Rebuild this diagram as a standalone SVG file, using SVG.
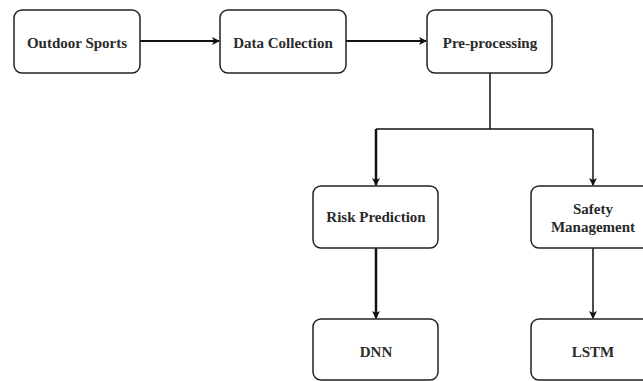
<svg xmlns="http://www.w3.org/2000/svg" width="643" height="381" viewBox="0 0 643 381">
<style>
.box{fill:#fff;stroke:#222;stroke-width:1.5}
.t{font-family:"Liberation Serif","Times New Roman",serif;font-weight:bold;font-size:15px;fill:#2a2a2a;text-anchor:middle}
.c{fill:none;stroke:#111;stroke-width:2}
</style>
<defs>
<marker id="ah" markerWidth="8" markerHeight="8" refX="7" refY="4" orient="auto" markerUnits="userSpaceOnUse">
<path d="M0,0 L8,4 L0,8 L2,4 Z" fill="#111"/>
</marker>
</defs>
<rect width="643" height="381" fill="#fff"/>
<g id="connectors">
<path class="c" d="M140,41 H219" marker-end="url(#ah)"/>
<path class="c" d="M346,41 H426" marker-end="url(#ah)"/>
<path class="c" d="M490,73 V129" style="stroke-width:1.5"/>
<path class="c" d="M376,129 H593" style="stroke-width:1.5"/>
<path class="c" d="M376,129 V185" style="stroke-width:2.5" marker-end="url(#ah)"/>
<path class="c" d="M593,129 V185" style="stroke-width:1.5" marker-end="url(#ah)"/>
<path class="c" d="M376,248 V318" style="stroke-width:2.5" marker-end="url(#ah)"/>
<path class="c" d="M593,248 V318" style="stroke-width:1.5" marker-end="url(#ah)"/>
</g>
<g id="outdoor"><rect class="box" x="14" y="10" width="126" height="63" rx="8"/><text class="t" x="77" y="48">Outdoor Sports</text></g>
<g id="data"><rect class="box" x="220" y="10" width="126" height="63" rx="8"/><text class="t" x="283" y="48">Data Collection</text></g>
<g id="pre"><rect class="box" x="427" y="10" width="125" height="63" rx="8"/><text class="t" x="490" y="48">Pre-processing</text></g>
<g id="risk"><rect class="box" x="313" y="186" width="125" height="62" rx="8"/><text class="t" x="376" y="222">Risk Prediction</text></g>
<g id="safety"><rect class="box" x="531" y="186" width="125" height="62" rx="8"/><text class="t" x="593" y="214">Safety</text><text class="t" x="593" y="232">Management</text></g>
<g id="dnn"><rect class="box" x="313" y="319" width="125" height="61" rx="8"/><text class="t" x="376" y="357">DNN</text></g>
<g id="lstm"><rect class="box" x="531" y="319" width="125" height="61" rx="8"/><text class="t" x="593" y="357">LSTM</text></g>
</svg>
